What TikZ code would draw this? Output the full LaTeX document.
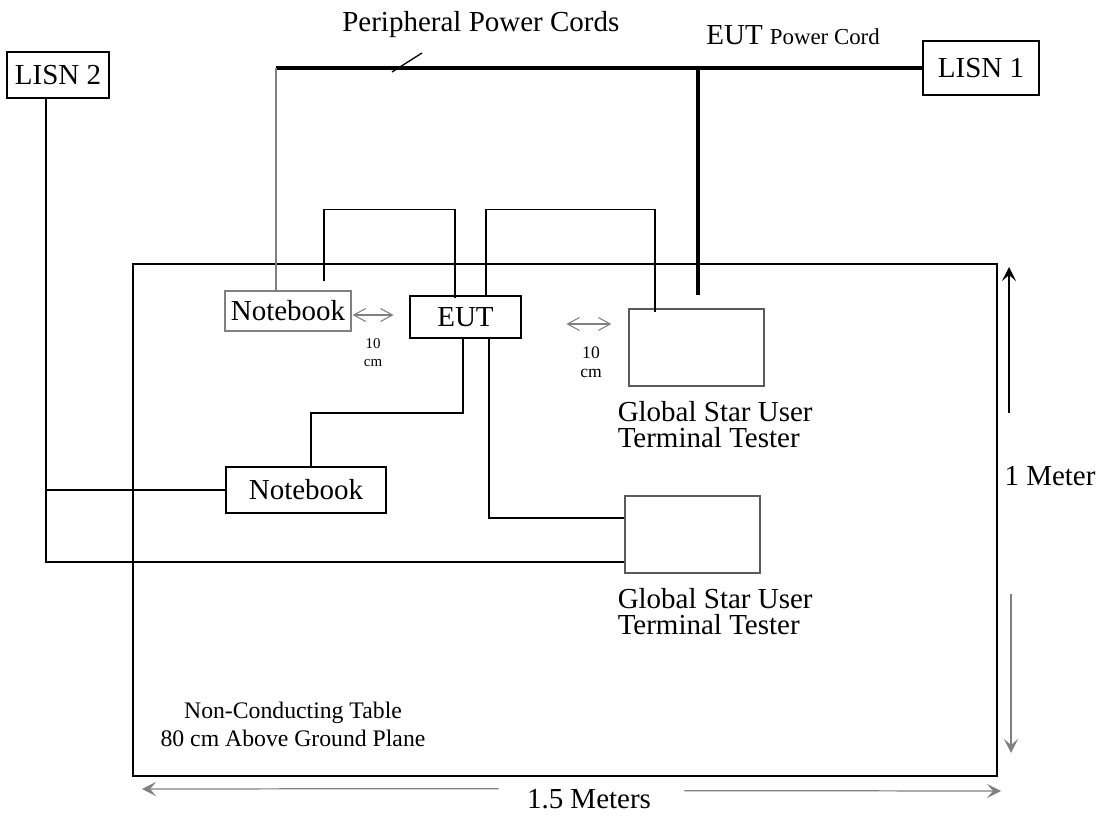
\documentclass[tikz,border=0pt]{standalone}
\usepackage{fontspec}
\setmainfont{Liberation Serif}
\usepackage{tikz}
\usetikzlibrary{arrows.meta, positioning, calc}
\definecolor{cCord}{RGB}{128,128,128}
\definecolor{cFrame}{RGB}{90,90,90}
\tikzset{
	devbox/.style  ={rectangle, draw=black, line width=0.7pt, inner sep=0pt, align=center},
	lisn/.style    ={rectangle, draw=black, line width=1.3pt, inner sep=0pt, align=center},
	cord/.style    ={line width=0.75pt},
	pwrcord/.style ={line width=2.3pt},
	% spacing and size markers
	gap/.style     ={{Straight Barb[length=2.4mm,width=2.6mm]}-{Straight Barb[length=2.4mm,width=2.6mm]}, draw=cCord, line width=0.6pt},
	dimarrow/.style={-{Stealth[length=2.8mm,width=2.8mm,inset=1.2mm]}, line width=0.7pt},
	note/.style    ={inner sep=0pt, align=center},
}
\begin{document}
\begin{tikzpicture}[x=0.02cm, y=-0.02cm, font=\fontsize{16.5}{18}\selectfont]
	\useasboundingbox (0,0) rectangle (1102,817);
	% table and equipment
	\node[rectangle, draw=black, line width=1.3pt, minimum width=17.28cm, minimum height=10.24cm, inner sep=0pt] (table) at (565,520) {};
	\node[lisn, minimum width=2.04cm, minimum height=0.92cm] (lisnTwo) at (58,75) {LISN 2};
	\node[lisn, minimum width=2.32cm, minimum height=1.08cm] (lisnOne) at (981,68) {LISN 1};
	\node[devbox, draw=cCord, minimum width=2.52cm, minimum height=0.8cm] (nbA) at (288,311) {Notebook};
	\node[devbox, minimum width=2.22cm, minimum height=0.84cm] (eut) at (465.5,317) {EUT};
	\node[devbox, draw=cFrame, minimum width=2.7cm, minimum height=1.54cm] (testerA) at (696.5,347.5) {};
	\node[devbox, line width=1pt, minimum width=3.2cm, minimum height=0.92cm] (nbB) at (306,490) {Notebook};
	\node[devbox, draw=cFrame, minimum width=2.7cm, minimum height=1.54cm] (testerB) at (692.5,534.5) {};

	% labels
	\node[anchor=base west, inner sep=0pt] (perLbl) at (342,32) {Peripheral Power Cords};
	\node[anchor=base west, inner sep=0pt] (eutLbl) at (706,45) {EUT {\fontsize{13}{15}\selectfont Power Cord}};
	\node[note, align=left, anchor=north west, font=\fontsize{16.5}{15}\selectfont] (testerALbl) at ($(testerA.south west)+(-11,14)$) {Global Star User\\Terminal Tester};
	\node[note, align=left, anchor=north west, font=\fontsize{16.5}{15}\selectfont] (testerBLbl) at ($(testerB.south west)+(-7,14)$) {Global Star User\\Terminal Tester};
	\node[note, font=\fontsize{13.5}{15.9}\selectfont, anchor=north] (tableLbl) at (293,702) {Non-Conducting Table\\80 cm Above Ground Plane};
	\node[note, font=\fontsize{8.5}{10.2}\selectfont, anchor=north] (gapALbl) at (373,338) {10\\cm};
	\node[note, font=\fontsize{10}{10.8}\selectfont, anchor=north] (gapBLbl) at (591,346) {10\\cm};
	\node[note, anchor=base] (widthLbl) at (589,808) {1.5 Meters};
	\node[note, anchor=base] (depthLbl) at (1050,485) {1 Meter};

	% power cords
	\coordinate (perCorner) at (276,68);
	\coordinate (eutTap) at (698,68);
	\coordinate (eutPlug) at (698,295);
	\draw[pwrcord] (lisnOne.west) -- (perCorner);
	\draw[pwrcord] (eutTap) -- (eutPlug);
	\draw[cord, draw=cCord] (perCorner) -- ($(nbA.north)+(-12,0)$);
	\draw[cord] ($(perLbl.base west)+(80,21)$) -- (392,72);

	% data cables
	\draw[cord] ($(nbA.north)+(36,-9)$) |- ($(eut.north)+(-10.5,-86)$) -- ($(eut.north)+(-10.5,3)$);
	\draw[cord] ($(eut.north)+(20.5,0)$) |- ($(testerA.north)+(-41.5,-99)$) -- ($(testerA.north)+(-41.5,4)$);
	\draw[cord] ($(eut.south)+(-2.5,0)$) |- ($(nbB.north)+(5,-53)$) -- ($(nbB.north)+(5,0)$);
	\draw[cord] ($(eut.south)+(23.5,0)$) |- ($(testerB.west)+(0,-16.5)$);
	\coordinate (lisnDrop) at ($(lisnTwo.south)+(-12,0)$);
	\draw[cord] (lisnDrop) |- ($(testerB.west)+(0,27.5)$);
	\draw[cord] (nbB.west) -- (nbB.west -| lisnDrop);

	% spacing between units
	\draw[gap] ($(nbA.east)+(1,4)$) -- ++(41,0);
	\draw[gap] ($(testerA.west)+(-62,-23.5)$) -- ++(45,0);

	% table size
	\draw[dimarrow] (1009,413) -- (1009,267);
	\draw[dimarrow, draw=cCord] (1011,594) -- (1011,753);
	\draw[dimarrow, draw=cCord] ($(widthLbl.west)+(-28,-10)$) -- (142,789);
	\draw[dimarrow, draw=cCord] ($(widthLbl.east)+(33,-8)$) -- (1001,791);
\end{tikzpicture}
\end{document}
